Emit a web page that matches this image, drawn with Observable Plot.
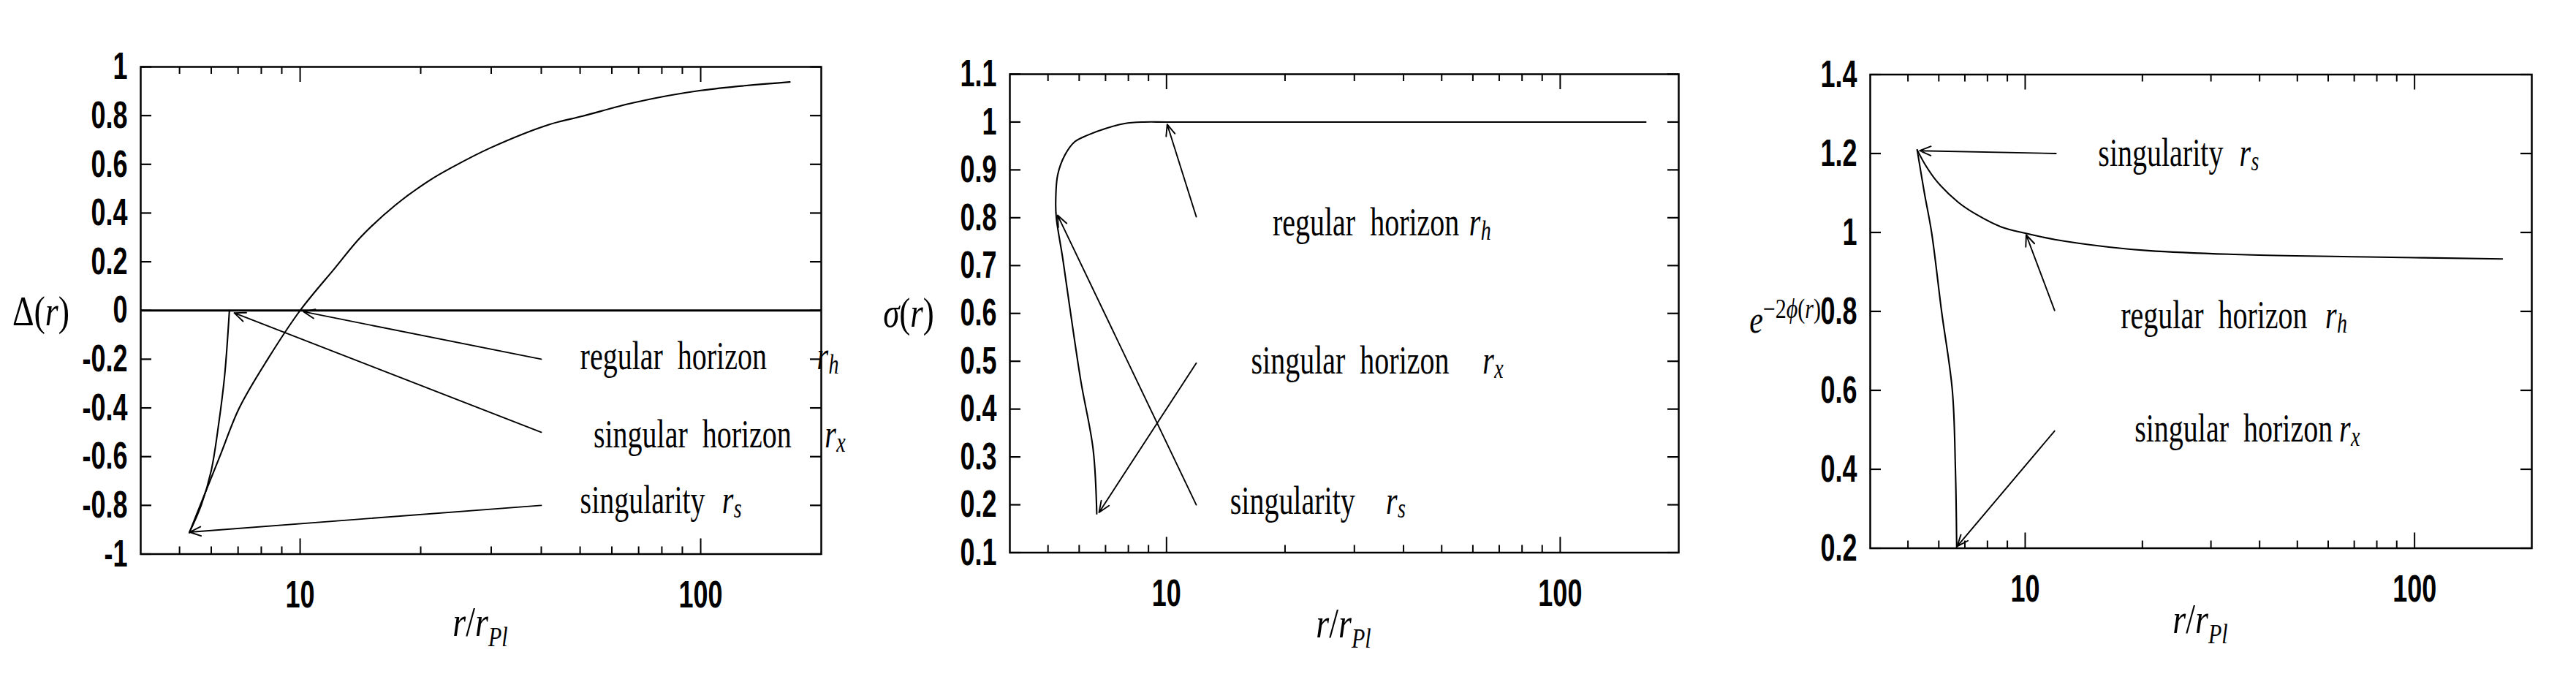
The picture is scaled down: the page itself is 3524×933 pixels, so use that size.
<!DOCTYPE html>
<html>
<head>
<meta charset="utf-8">
<script src="https://cdn.jsdelivr.net/npm/d3@7"></script>
<script src="https://cdn.jsdelivr.net/npm/@observablehq/plot@0.6"></script>
<style>
html, body { margin: 0; padding: 0; background: #fff; }
#root { position: relative; width: 3524px; height: 933px; overflow: hidden; background: #fff; }
.panel { position: absolute; top: 0; }
.panel svg { overflow: visible; max-width: none; display: block; }
.panel svg text { white-space: pre; }
.lab { position: absolute; font-family: "Liberation Serif", "Times New Roman", serif; color: #000; white-space: nowrap; line-height: 1; }
.lab sup { font-size: 30px; vertical-align: 0; position: relative; top: -0.55em; }
.lab sub { font-size: 30px; vertical-align: 0; position: relative; top: 0.35em; }
</style>
</head>
<body>
<div id="root"></div>
<script>
// ---------- shared axis data ----------
const xDomain = [4, 200];
const xMajorTicks = [10, 100];
const xMinorTicks = [5, 6, 7, 8, 9, 20, 30, 40, 50, 60, 70, 80, 90];

// ---------- panel 1 : Delta(r) ----------
const deltaDomain = [-1, 1];
const deltaTicks = [-1, -0.8, -0.6, -0.4, -0.2, 0, 0.2, 0.4, 0.6, 0.8, 1];
const deltaBranchR = [6.66, 6.48, 6.26, 6.0, 5.67, 5.29];
const deltaBranchV = [0, -0.267, -0.467, -0.657, -0.797, -0.912];
const deltaMainR = [5.29, 5.63, 6.3, 7.05, 8.3, 10, 12.2, 14.2, 17.3, 21, 24.1, 29.9, 41.8, 50.8, 68, 100, 167];
const deltaMainV = [-0.912, -0.8, -0.6, -0.4, -0.2, 0, 0.173, 0.303, 0.433, 0.533, 0.59, 0.668, 0.763, 0.798, 0.853, 0.903, 0.938];
const deltaZero = [0];
const deltaArrowR1 = [40, 40, 40];
const deltaArrowV1 = [-0.2, -0.5, -0.8];
const deltaArrowR2 = [10.2, 6.85, 5.3];
const deltaArrowV2 = [-0.005, -0.01, -0.91];
const deltaLabelText = ["regular  horizon", "singular  horizon", "singularity"];
const deltaLabelR = [50, 54, 50];
const deltaLabelV = [-0.19, -0.51, -0.78];
const deltaSymR = [195, 204, 113];
const deltaSymSub = ["h", "x", "s"];

// ---------- panel 2 : sigma(r) ----------
const sigmaDomain = [0.1, 1.1];
const sigmaTicks = [0.1, 0.2, 0.3, 0.4, 0.5, 0.6, 0.7, 0.8, 0.9, 1, 1.1];
const sigmaR = [6.65, 6.51, 6.06, 5.68, 5.45, 5.25, 5.23, 5.29, 5.52, 5.85, 6.32, 7.03, 7.83, 8.77, 10, 20, 50, 100, 165];
const sigmaV = [0.181, 0.316, 0.458, 0.612, 0.715, 0.799, 0.831, 0.889, 0.931, 0.959, 0.973, 0.987, 0.997, 1.0, 1.0, 1.0, 1.0, 1.0, 1.0];
const sigmaArrowR1 = [11.9, 11.9, 11.9];
const sigmaArrowV1 = [0.802, 0.496, 0.2];
const sigmaArrowR2 = [10.04, 6.74, 5.29];
const sigmaArrowV2 = [0.995, 0.184, 0.805];
const sigmaLabelText = ["regular  horizon", "singular  horizon", "singularity"];
const sigmaLabelR = [18.6, 16.4, 14.5];
const sigmaLabelV = [0.79, 0.5, 0.208];
const sigmaSymR = [58.7, 63.5, 36.1];
const sigmaSymSub = ["h", "x", "s"];

// ---------- panel 3 : e^{-2 phi(r)} ----------
const phiDomain = [0.2, 1.4];
const phiTicks = [0.2, 0.4, 0.6, 0.8, 1, 1.2, 1.4];
const phiBranchR = [5.28, 5.51, 5.75, 6.1, 6.5, 6.62, 6.67];
const phiBranchV = [1.209, 1.1, 1.0, 0.8, 0.6, 0.4, 0.2];
const phiMainR = [5.28, 5.55, 5.96, 6.74, 7.51, 8.68, 10, 11.93, 16.4, 20.7, 38.3, 75.5, 168];
const phiMainV = [1.209, 1.17, 1.127, 1.076, 1.045, 1.014, 0.998, 0.982, 0.963, 0.954, 0.943, 0.938, 0.933];
const phiArrowR1 = [12, 11.9, 11.9];
const phiArrowV1 = [1.2, 0.8025, 0.497];
const phiArrowR2 = [5.36, 10.06, 6.69];
const phiArrowV2 = [1.207, 0.994, 0.205];
const phiLabelText = ["singularity", "regular  horizon", "singular  horizon"];
const phiLabelR = [15.4, 17.6, 19.1];
const phiLabelV = [1.2, 0.79, 0.502];
const phiSymR = [35.5, 59, 64];
const phiSymSub = ["s", "h", "x"];

// ---------- helpers ----------
const PAGE_H = 933;
const INK = "#000";
const SANS = '"Liberation Sans", Arial, sans-serif';
const SERIF = '"Liberation Serif", "Times New Roman", serif';
const zipXY = (R, V) => R.map((r, i) => ({r, v: V[i]}));
const zipArrows = (R1, V1, R2, V2) => R1.map((r, i) => ({r1: r, v1: V1[i], r2: R2[i], v2: V2[i]}));
const zipLabels = (T, R, V) => T.map((t, i) => ({t, r: R[i], v: V[i]}));
const zipSyms = (R, V, S) => R.map((r, i) => ({r, v: V[i], s: S[i]}));

function buildPanel(cfg) {
  const innerW = cfg.width - cfg.mL - cfg.mR;
  const innerH = PAGE_H - cfg.mT - cfg.mB;
  const marks = [];
  // inward tick marks on all four sides
  marks.push(Plot.ruleY(cfg.yTicks, {y: d => d, insetRight: innerW - 15, stroke: INK, strokeWidth: 2.2}));
  marks.push(Plot.ruleY(cfg.yTicks, {y: d => d, insetLeft: innerW - 15, stroke: INK, strokeWidth: 2.2}));
  marks.push(Plot.ruleX(xMajorTicks, {x: d => d, insetTop: innerH - 21, stroke: INK, strokeWidth: 2}));
  marks.push(Plot.ruleX(xMajorTicks, {x: d => d, insetBottom: innerH - 21, stroke: INK, strokeWidth: 2}));
  marks.push(Plot.ruleX(xMinorTicks, {x: d => d, insetTop: innerH - 10, stroke: INK, strokeWidth: 2}));
  marks.push(Plot.ruleX(xMinorTicks, {x: d => d, insetBottom: innerH - 10, stroke: INK, strokeWidth: 2}));
  // tick labels, placed through the x / y scales
  marks.push(Plot.text(cfg.yTicks, {y: d => d, text: d => String(d), frameAnchor: "left", textAnchor: "end", lineAnchor: "middle", dx: -18, fontFamily: SANS, fontWeight: "bold", fontSize: 36, fill: INK}));
  marks.push(Plot.text(xMajorTicks, {x: d => d, text: d => String(d), frameAnchor: "bottom", textAnchor: "middle", lineAnchor: "top", dy: 36, fontFamily: SANS, fontWeight: "bold", fontSize: 36, fill: INK}));
  if (cfg.zero) marks.push(Plot.ruleY(cfg.zero, {y: d => d, stroke: INK, strokeWidth: 2.8}));
  for (const c of cfg.curves) {
    marks.push(Plot.line(c, {x: "r", y: "v", curve: "catmull-rom", stroke: INK, strokeWidth: 2.1}));
  }
  marks.push(Plot.arrow(cfg.arrows, {x1: "r1", y1: "v1", x2: "r2", y2: "v2", stroke: INK, strokeWidth: 1.9, headLength: 13, headAngle: 45}));
  marks.push(Plot.text(cfg.labels, {x: "r", y: "v", text: "t", textAnchor: "start", fontFamily: SERIF, fontSize: 40, fontWeight: "normal", fill: INK}));
  marks.push(Plot.text(cfg.syms, {x: "r", y: "v", text: () => "r", textAnchor: "start", fontFamily: SERIF, fontStyle: "italic", fontSize: 40, fontWeight: "normal", fill: INK}));
  marks.push(Plot.text(cfg.syms, {x: "r", y: "v", text: "s", dx: 16, dy: 11, textAnchor: "start", fontFamily: SERIF, fontStyle: "italic", fontSize: 28, fontWeight: "normal", fill: INK}));
  marks.push(Plot.frame({stroke: INK, strokeWidth: 2.5}));

  const svg = Plot.plot({
    width: cfg.width,
    height: PAGE_H,
    marginLeft: cfg.mL,
    marginRight: cfg.mR,
    marginTop: cfg.mT,
    marginBottom: cfg.mB,
    style: {fontFamily: SERIF, fontSize: "36px", background: "transparent", overflow: "visible"},
    x: {type: "log", domain: xDomain, axis: null},
    y: {domain: cfg.yDomain, axis: null},
    marks
  });
  // mimic the vertically stretched lettering of the original figure
  svg.querySelectorAll("text").forEach(t => {
    const g = t.closest("g");
    const ff = (g && g.getAttribute("font-family")) || "";
    const s = ff.includes("Sans") ? 1.45 : 1.35;
    const tr = t.getAttribute("transform") || "";
    t.setAttribute("transform", (tr + ` scale(1,${s})`).trim());
  });
  const div = document.createElement("div");
  div.className = "panel";
  div.style.left = cfg.left + "px";
  div.appendChild(svg);
  return div;
}

const root = document.getElementById("root");

root.appendChild(buildPanel({
  left: 0, width: 1175, mL: 192, mR: 52, mT: 91, mB: 175.5,
  yDomain: deltaDomain, yTicks: deltaTicks, zero: deltaZero,
  curves: [zipXY(deltaBranchR, deltaBranchV), zipXY(deltaMainR, deltaMainV)],
  arrows: zipArrows(deltaArrowR1, deltaArrowV1, deltaArrowR2, deltaArrowV2),
  labels: zipLabels(deltaLabelText, deltaLabelR, deltaLabelV),
  syms: zipSyms(deltaSymR, deltaLabelV, deltaSymSub)
}));

root.appendChild(buildPanel({
  left: 1175, width: 1160, mL: 206, mR: 39, mT: 101, mB: 177.5,
  yDomain: sigmaDomain, yTicks: sigmaTicks, zero: null,
  curves: [zipXY(sigmaR, sigmaV)],
  arrows: zipArrows(sigmaArrowR1, sigmaArrowV1, sigmaArrowR2, sigmaArrowV2),
  labels: zipLabels(sigmaLabelText, sigmaLabelR, sigmaLabelV),
  syms: zipSyms(sigmaSymR, sigmaLabelV, sigmaSymSub)
}));

root.appendChild(buildPanel({
  left: 2335, width: 1189, mL: 223, mR: 61, mT: 101.5, mB: 183.5,
  yDomain: phiDomain, yTicks: phiTicks, zero: null,
  curves: [zipXY(phiBranchR, phiBranchV), zipXY(phiMainR, phiMainV)],
  arrows: zipArrows(phiArrowR1, phiArrowV1, phiArrowR2, phiArrowV2),
  labels: zipLabels(phiLabelText, phiLabelR, phiLabelV),
  syms: zipSyms(phiSymR, phiLabelV, phiSymSub)
}));

// ---------- axis titles (rich text) ----------
function addLabel(html, x, y, size, anchor) {
  const d = document.createElement("div");
  d.className = "lab";
  d.innerHTML = html;
  d.style.left = x + "px";
  d.style.top = y + "px";
  d.style.fontSize = size + "px";
  const tx = anchor === "end" ? "-100%" : "-50%";
  d.style.transform = `translate(${tx},-50%) scaleY(1.25)`;
  root.appendChild(d);
}
addLabel("Δ(<i>r</i>)", 56, 426, 46);
addLabel("<i>σ</i>(<i>r</i>)", 1243, 429, 45);
addLabel("<i>e</i><sup>−2<i>ϕ</i>(<i>r</i>)</sup>", 2491, 437, 42, "end");
addLabel("<i>r</i>/<i>r</i><sub><i>Pl</i></sub>", 657, 851, 46);
addLabel("<i>r</i>/<i>r</i><sub><i>Pl</i></sub>", 1838, 853, 46);
addLabel("<i>r</i>/<i>r</i><sub><i>Pl</i></sub>", 3010, 847, 46);
</script>
</body>
</html>
